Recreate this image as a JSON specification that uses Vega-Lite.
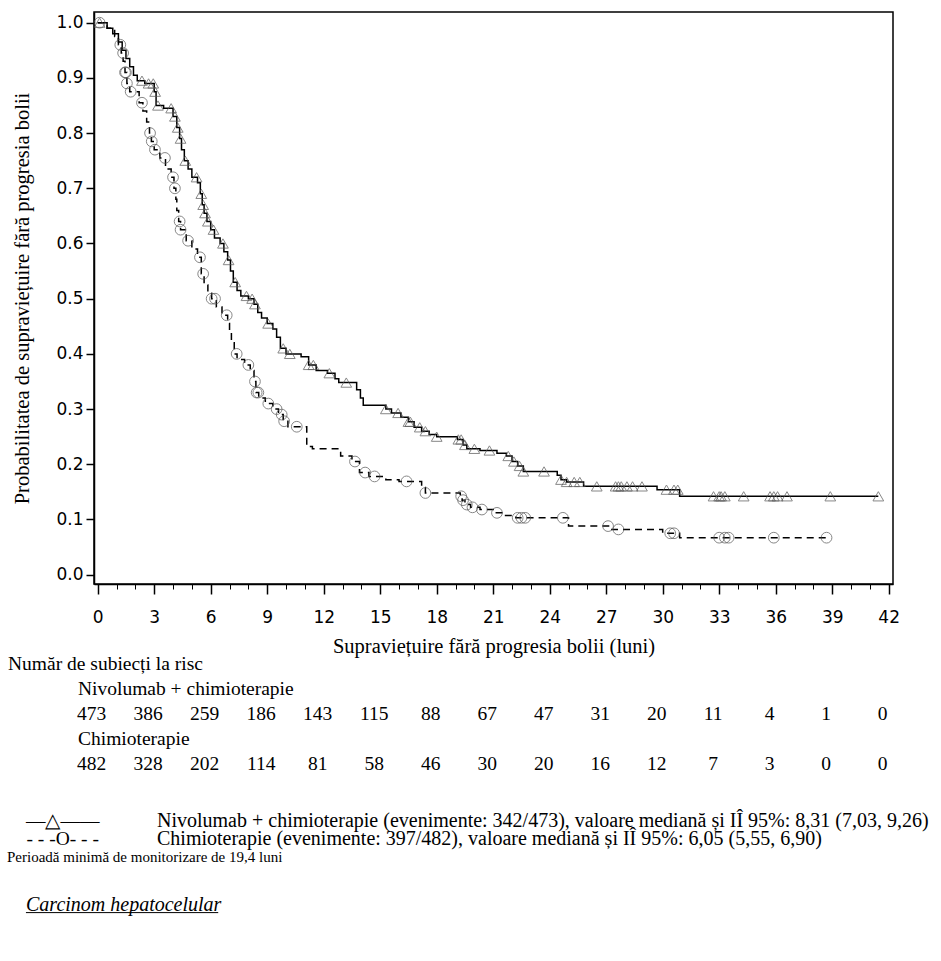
{
  "$schema": "https://vega.github.io/schema/vega-lite/v6.json",
  "padding": {"left": 7, "top": 11, "right": 5, "bottom": 5},
  "autosize": {"type": "pad"},
  "background": "white",
  "bounds": "flush",
  "spacing": 0,
  "config": {"view": {"stroke": null}},
  "datasets": {
    "km": [
      {"arm":"Nivolumab + chimioterapie","t":0,"s":1.0},{"arm":"Nivolumab + chimioterapie","t":0.5,"s":0.99},{"arm":"Nivolumab + chimioterapie","t":0.8,"s":0.98},{"arm":"Nivolumab + chimioterapie","t":1.1,"s":0.965},{"arm":"Nivolumab + chimioterapie","t":1.3,"s":0.95},{"arm":"Nivolumab + chimioterapie","t":1.5,"s":0.935},{"arm":"Nivolumab + chimioterapie","t":1.7,"s":0.92},{"arm":"Nivolumab + chimioterapie","t":1.9,"s":0.905},{"arm":"Nivolumab + chimioterapie","t":2.1,"s":0.895},{"arm":"Nivolumab + chimioterapie","t":2.5,"s":0.89},{"arm":"Nivolumab + chimioterapie","t":3.0,"s":0.875},{"arm":"Nivolumab + chimioterapie","t":3.1,"s":0.85},{"arm":"Nivolumab + chimioterapie","t":3.5,"s":0.845},{"arm":"Nivolumab + chimioterapie","t":4.0,"s":0.83},{"arm":"Nivolumab + chimioterapie","t":4.2,"s":0.81},{"arm":"Nivolumab + chimioterapie","t":4.35,"s":0.79},{"arm":"Nivolumab + chimioterapie","t":4.45,"s":0.77},{"arm":"Nivolumab + chimioterapie","t":4.6,"s":0.75},{"arm":"Nivolumab + chimioterapie","t":4.8,"s":0.735},{"arm":"Nivolumab + chimioterapie","t":5.0,"s":0.72},{"arm":"Nivolumab + chimioterapie","t":5.3,"s":0.71},{"arm":"Nivolumab + chimioterapie","t":5.45,"s":0.69},{"arm":"Nivolumab + chimioterapie","t":5.55,"s":0.67},{"arm":"Nivolumab + chimioterapie","t":5.65,"s":0.655},{"arm":"Nivolumab + chimioterapie","t":5.8,"s":0.64},{"arm":"Nivolumab + chimioterapie","t":6.0,"s":0.625},{"arm":"Nivolumab + chimioterapie","t":6.2,"s":0.61},{"arm":"Nivolumab + chimioterapie","t":6.5,"s":0.6},{"arm":"Nivolumab + chimioterapie","t":6.7,"s":0.585},{"arm":"Nivolumab + chimioterapie","t":6.9,"s":0.57},{"arm":"Nivolumab + chimioterapie","t":7.05,"s":0.55},{"arm":"Nivolumab + chimioterapie","t":7.2,"s":0.53},{"arm":"Nivolumab + chimioterapie","t":7.4,"s":0.515},{"arm":"Nivolumab + chimioterapie","t":7.6,"s":0.505},{"arm":"Nivolumab + chimioterapie","t":8.0,"s":0.5},{"arm":"Nivolumab + chimioterapie","t":8.3,"s":0.49},{"arm":"Nivolumab + chimioterapie","t":8.5,"s":0.475},{"arm":"Nivolumab + chimioterapie","t":8.7,"s":0.465},{"arm":"Nivolumab + chimioterapie","t":9.0,"s":0.455},{"arm":"Nivolumab + chimioterapie","t":9.3,"s":0.445},{"arm":"Nivolumab + chimioterapie","t":9.5,"s":0.43},{"arm":"Nivolumab + chimioterapie","t":9.7,"s":0.41},{"arm":"Nivolumab + chimioterapie","t":10.0,"s":0.4},{"arm":"Nivolumab + chimioterapie","t":10.8,"s":0.395},{"arm":"Nivolumab + chimioterapie","t":11.2,"s":0.38},{"arm":"Nivolumab + chimioterapie","t":11.6,"s":0.37},{"arm":"Nivolumab + chimioterapie","t":12.2,"s":0.365},{"arm":"Nivolumab + chimioterapie","t":12.6,"s":0.355},{"arm":"Nivolumab + chimioterapie","t":12.8,"s":0.348},{"arm":"Nivolumab + chimioterapie","t":13.75,"s":0.335},{"arm":"Nivolumab + chimioterapie","t":13.95,"s":0.32},{"arm":"Nivolumab + chimioterapie","t":14.1,"s":0.307},{"arm":"Nivolumab + chimioterapie","t":15.3,"s":0.3},{"arm":"Nivolumab + chimioterapie","t":15.6,"s":0.293},{"arm":"Nivolumab + chimioterapie","t":16.1,"s":0.285},{"arm":"Nivolumab + chimioterapie","t":16.5,"s":0.277},{"arm":"Nivolumab + chimioterapie","t":16.8,"s":0.267},{"arm":"Nivolumab + chimioterapie","t":17.2,"s":0.26},{"arm":"Nivolumab + chimioterapie","t":17.6,"s":0.254},{"arm":"Nivolumab + chimioterapie","t":18.0,"s":0.25},{"arm":"Nivolumab + chimioterapie","t":19.1,"s":0.245},{"arm":"Nivolumab + chimioterapie","t":19.4,"s":0.235},{"arm":"Nivolumab + chimioterapie","t":19.6,"s":0.228},{"arm":"Nivolumab + chimioterapie","t":20.3,"s":0.225},{"arm":"Nivolumab + chimioterapie","t":21.2,"s":0.22},{"arm":"Nivolumab + chimioterapie","t":21.7,"s":0.215},{"arm":"Nivolumab + chimioterapie","t":22.0,"s":0.205},{"arm":"Nivolumab + chimioterapie","t":22.3,"s":0.197},{"arm":"Nivolumab + chimioterapie","t":22.6,"s":0.187},{"arm":"Nivolumab + chimioterapie","t":24.4,"s":0.18},{"arm":"Nivolumab + chimioterapie","t":24.6,"s":0.172},{"arm":"Nivolumab + chimioterapie","t":24.9,"s":0.168},{"arm":"Nivolumab + chimioterapie","t":25.8,"s":0.16},{"arm":"Nivolumab + chimioterapie","t":29.7,"s":0.154},{"arm":"Nivolumab + chimioterapie","t":30.9,"s":0.142},{"arm":"Nivolumab + chimioterapie","t":41.45,"s":0.142},
      {"arm":"Chimioterapie","t":0,"s":1.0},{"arm":"Chimioterapie","t":0.5,"s":0.99},{"arm":"Chimioterapie","t":0.9,"s":0.975},{"arm":"Chimioterapie","t":1.1,"s":0.96},{"arm":"Chimioterapie","t":1.25,"s":0.945},{"arm":"Chimioterapie","t":1.35,"s":0.93},{"arm":"Chimioterapie","t":1.45,"s":0.91},{"arm":"Chimioterapie","t":1.55,"s":0.89},{"arm":"Chimioterapie","t":1.7,"s":0.875},{"arm":"Chimioterapie","t":2.2,"s":0.855},{"arm":"Chimioterapie","t":2.4,"s":0.84},{"arm":"Chimioterapie","t":2.6,"s":0.82},{"arm":"Chimioterapie","t":2.75,"s":0.8},{"arm":"Chimioterapie","t":2.85,"s":0.785},{"arm":"Chimioterapie","t":3.0,"s":0.77},{"arm":"Chimioterapie","t":3.3,"s":0.755},{"arm":"Chimioterapie","t":3.6,"s":0.735},{"arm":"Chimioterapie","t":3.9,"s":0.72},{"arm":"Chimioterapie","t":4.05,"s":0.7},{"arm":"Chimioterapie","t":4.15,"s":0.68},{"arm":"Chimioterapie","t":4.2,"s":0.66},{"arm":"Chimioterapie","t":4.3,"s":0.64},{"arm":"Chimioterapie","t":4.4,"s":0.625},{"arm":"Chimioterapie","t":4.7,"s":0.605},{"arm":"Chimioterapie","t":5.0,"s":0.59},{"arm":"Chimioterapie","t":5.3,"s":0.575},{"arm":"Chimioterapie","t":5.5,"s":0.545},{"arm":"Chimioterapie","t":5.65,"s":0.525},{"arm":"Chimioterapie","t":5.85,"s":0.51},{"arm":"Chimioterapie","t":6.05,"s":0.5},{"arm":"Chimioterapie","t":6.3,"s":0.485},{"arm":"Chimioterapie","t":6.6,"s":0.47},{"arm":"Chimioterapie","t":6.9,"s":0.455},{"arm":"Chimioterapie","t":7.0,"s":0.44},{"arm":"Chimioterapie","t":7.1,"s":0.42},{"arm":"Chimioterapie","t":7.25,"s":0.4},{"arm":"Chimioterapie","t":7.4,"s":0.39},{"arm":"Chimioterapie","t":7.8,"s":0.38},{"arm":"Chimioterapie","t":8.1,"s":0.37},{"arm":"Chimioterapie","t":8.3,"s":0.35},{"arm":"Chimioterapie","t":8.4,"s":0.33},{"arm":"Chimioterapie","t":8.55,"s":0.32},{"arm":"Chimioterapie","t":8.9,"s":0.31},{"arm":"Chimioterapie","t":9.3,"s":0.3},{"arm":"Chimioterapie","t":9.6,"s":0.29},{"arm":"Chimioterapie","t":9.85,"s":0.278},{"arm":"Chimioterapie","t":10.1,"s":0.268},{"arm":"Chimioterapie","t":11.1,"s":0.232},{"arm":"Chimioterapie","t":11.4,"s":0.228},{"arm":"Chimioterapie","t":12.9,"s":0.215},{"arm":"Chimioterapie","t":13.5,"s":0.205},{"arm":"Chimioterapie","t":13.9,"s":0.185},{"arm":"Chimioterapie","t":14.4,"s":0.178},{"arm":"Chimioterapie","t":15.3,"s":0.172},{"arm":"Chimioterapie","t":16.0,"s":0.169},{"arm":"Chimioterapie","t":17.2,"s":0.158},{"arm":"Chimioterapie","t":17.4,"s":0.148},{"arm":"Chimioterapie","t":19.25,"s":0.142},{"arm":"Chimioterapie","t":19.35,"s":0.135},{"arm":"Chimioterapie","t":19.5,"s":0.127},{"arm":"Chimioterapie","t":19.8,"s":0.122},{"arm":"Chimioterapie","t":20.3,"s":0.118},{"arm":"Chimioterapie","t":21.0,"s":0.112},{"arm":"Chimioterapie","t":21.6,"s":0.107},{"arm":"Chimioterapie","t":22.2,"s":0.103},{"arm":"Chimioterapie","t":25.0,"s":0.088},{"arm":"Chimioterapie","t":27.2,"s":0.082},{"arm":"Chimioterapie","t":30.0,"s":0.075},{"arm":"Chimioterapie","t":30.9,"s":0.067},{"arm":"Chimioterapie","t":38.7,"s":0.067}
    ],
    "cens": [
      {"arm":"Nivolumab + chimioterapie","t":0.1,"s":1.0},{"arm":"Nivolumab + chimioterapie","t":2.35,"s":0.895},{"arm":"Nivolumab + chimioterapie","t":2.7,"s":0.89},{"arm":"Nivolumab + chimioterapie","t":2.95,"s":0.89},{"arm":"Nivolumab + chimioterapie","t":3.05,"s":0.875},{"arm":"Nivolumab + chimioterapie","t":3.2,"s":0.85},{"arm":"Nivolumab + chimioterapie","t":3.9,"s":0.845},{"arm":"Nivolumab + chimioterapie","t":4.1,"s":0.83},{"arm":"Nivolumab + chimioterapie","t":4.25,"s":0.81},{"arm":"Nivolumab + chimioterapie","t":4.4,"s":0.79},{"arm":"Nivolumab + chimioterapie","t":4.65,"s":0.75},{"arm":"Nivolumab + chimioterapie","t":5.25,"s":0.72},{"arm":"Nivolumab + chimioterapie","t":5.5,"s":0.69},{"arm":"Nivolumab + chimioterapie","t":5.6,"s":0.67},{"arm":"Nivolumab + chimioterapie","t":5.7,"s":0.655},{"arm":"Nivolumab + chimioterapie","t":5.85,"s":0.64},{"arm":"Nivolumab + chimioterapie","t":6.15,"s":0.625},{"arm":"Nivolumab + chimioterapie","t":6.65,"s":0.6},{"arm":"Nivolumab + chimioterapie","t":6.95,"s":0.57},{"arm":"Nivolumab + chimioterapie","t":7.3,"s":0.53},{"arm":"Nivolumab + chimioterapie","t":7.9,"s":0.505},{"arm":"Nivolumab + chimioterapie","t":8.2,"s":0.5},{"arm":"Nivolumab + chimioterapie","t":8.35,"s":0.49},{"arm":"Nivolumab + chimioterapie","t":9.05,"s":0.455},{"arm":"Nivolumab + chimioterapie","t":9.85,"s":0.41},{"arm":"Nivolumab + chimioterapie","t":10.2,"s":0.4},{"arm":"Nivolumab + chimioterapie","t":11.2,"s":0.38},{"arm":"Nivolumab + chimioterapie","t":11.45,"s":0.38},{"arm":"Nivolumab + chimioterapie","t":12.3,"s":0.365},{"arm":"Nivolumab + chimioterapie","t":13.2,"s":0.348},{"arm":"Nivolumab + chimioterapie","t":15.3,"s":0.3},{"arm":"Nivolumab + chimioterapie","t":15.95,"s":0.293},{"arm":"Nivolumab + chimioterapie","t":16.5,"s":0.277},{"arm":"Nivolumab + chimioterapie","t":16.6,"s":0.277},{"arm":"Nivolumab + chimioterapie","t":17.1,"s":0.267},{"arm":"Nivolumab + chimioterapie","t":17.4,"s":0.26},{"arm":"Nivolumab + chimioterapie","t":18.0,"s":0.25},{"arm":"Nivolumab + chimioterapie","t":19.15,"s":0.245},{"arm":"Nivolumab + chimioterapie","t":19.3,"s":0.245},{"arm":"Nivolumab + chimioterapie","t":19.5,"s":0.235},{"arm":"Nivolumab + chimioterapie","t":20.0,"s":0.228},{"arm":"Nivolumab + chimioterapie","t":20.8,"s":0.225},{"arm":"Nivolumab + chimioterapie","t":21.8,"s":0.215},{"arm":"Nivolumab + chimioterapie","t":22.1,"s":0.205},{"arm":"Nivolumab + chimioterapie","t":22.4,"s":0.197},{"arm":"Nivolumab + chimioterapie","t":22.6,"s":0.187},{"arm":"Nivolumab + chimioterapie","t":23.7,"s":0.187},{"arm":"Nivolumab + chimioterapie","t":24.6,"s":0.172},{"arm":"Nivolumab + chimioterapie","t":24.9,"s":0.168},{"arm":"Nivolumab + chimioterapie","t":25.3,"s":0.168},{"arm":"Nivolumab + chimioterapie","t":25.6,"s":0.168},{"arm":"Nivolumab + chimioterapie","t":26.5,"s":0.16},{"arm":"Nivolumab + chimioterapie","t":27.5,"s":0.16},{"arm":"Nivolumab + chimioterapie","t":27.65,"s":0.16},{"arm":"Nivolumab + chimioterapie","t":27.8,"s":0.16},{"arm":"Nivolumab + chimioterapie","t":28.1,"s":0.16},{"arm":"Nivolumab + chimioterapie","t":28.4,"s":0.16},{"arm":"Nivolumab + chimioterapie","t":28.9,"s":0.16},{"arm":"Nivolumab + chimioterapie","t":30.2,"s":0.154},{"arm":"Nivolumab + chimioterapie","t":30.6,"s":0.154},{"arm":"Nivolumab + chimioterapie","t":30.8,"s":0.154},{"arm":"Nivolumab + chimioterapie","t":32.7,"s":0.142},{"arm":"Nivolumab + chimioterapie","t":33.0,"s":0.142},{"arm":"Nivolumab + chimioterapie","t":33.1,"s":0.142},{"arm":"Nivolumab + chimioterapie","t":33.3,"s":0.142},{"arm":"Nivolumab + chimioterapie","t":34.3,"s":0.142},{"arm":"Nivolumab + chimioterapie","t":35.7,"s":0.142},{"arm":"Nivolumab + chimioterapie","t":35.9,"s":0.142},{"arm":"Nivolumab + chimioterapie","t":36.1,"s":0.142},{"arm":"Nivolumab + chimioterapie","t":36.6,"s":0.142},{"arm":"Nivolumab + chimioterapie","t":38.9,"s":0.142},{"arm":"Nivolumab + chimioterapie","t":41.45,"s":0.142},
      {"arm":"Chimioterapie","t":0.1,"s":1.0},{"arm":"Chimioterapie","t":1.2,"s":0.96},{"arm":"Chimioterapie","t":1.35,"s":0.945},{"arm":"Chimioterapie","t":1.45,"s":0.91},{"arm":"Chimioterapie","t":1.5,"s":0.91},{"arm":"Chimioterapie","t":1.55,"s":0.89},{"arm":"Chimioterapie","t":1.75,"s":0.875},{"arm":"Chimioterapie","t":2.35,"s":0.855},{"arm":"Chimioterapie","t":2.78,"s":0.8},{"arm":"Chimioterapie","t":2.87,"s":0.785},{"arm":"Chimioterapie","t":3.04,"s":0.77},{"arm":"Chimioterapie","t":3.57,"s":0.755},{"arm":"Chimioterapie","t":4.0,"s":0.72},{"arm":"Chimioterapie","t":4.1,"s":0.7},{"arm":"Chimioterapie","t":4.35,"s":0.64},{"arm":"Chimioterapie","t":4.4,"s":0.625},{"arm":"Chimioterapie","t":4.8,"s":0.605},{"arm":"Chimioterapie","t":5.43,"s":0.575},{"arm":"Chimioterapie","t":5.6,"s":0.545},{"arm":"Chimioterapie","t":6.05,"s":0.5},{"arm":"Chimioterapie","t":6.23,"s":0.5},{"arm":"Chimioterapie","t":6.85,"s":0.47},{"arm":"Chimioterapie","t":7.38,"s":0.4},{"arm":"Chimioterapie","t":8.0,"s":0.38},{"arm":"Chimioterapie","t":8.35,"s":0.35},{"arm":"Chimioterapie","t":8.44,"s":0.33},{"arm":"Chimioterapie","t":8.53,"s":0.33},{"arm":"Chimioterapie","t":9.06,"s":0.31},{"arm":"Chimioterapie","t":9.5,"s":0.3},{"arm":"Chimioterapie","t":9.77,"s":0.29},{"arm":"Chimioterapie","t":9.9,"s":0.278},{"arm":"Chimioterapie","t":10.57,"s":0.268},{"arm":"Chimioterapie","t":13.66,"s":0.205},{"arm":"Chimioterapie","t":14.2,"s":0.185},{"arm":"Chimioterapie","t":14.7,"s":0.178},{"arm":"Chimioterapie","t":16.4,"s":0.169},{"arm":"Chimioterapie","t":17.4,"s":0.148},{"arm":"Chimioterapie","t":19.3,"s":0.142},{"arm":"Chimioterapie","t":19.4,"s":0.135},{"arm":"Chimioterapie","t":19.6,"s":0.127},{"arm":"Chimioterapie","t":19.9,"s":0.122},{"arm":"Chimioterapie","t":20.4,"s":0.118},{"arm":"Chimioterapie","t":21.2,"s":0.112},{"arm":"Chimioterapie","t":22.3,"s":0.103},{"arm":"Chimioterapie","t":22.5,"s":0.103},{"arm":"Chimioterapie","t":22.7,"s":0.103},{"arm":"Chimioterapie","t":24.7,"s":0.103},{"arm":"Chimioterapie","t":27.1,"s":0.088},{"arm":"Chimioterapie","t":27.65,"s":0.082},{"arm":"Chimioterapie","t":30.4,"s":0.075},{"arm":"Chimioterapie","t":30.6,"s":0.075},{"arm":"Chimioterapie","t":33.0,"s":0.067},{"arm":"Chimioterapie","t":33.3,"s":0.067},{"arm":"Chimioterapie","t":33.5,"s":0.067},{"arm":"Chimioterapie","t":35.9,"s":0.067},{"arm":"Chimioterapie","t":38.7,"s":0.067}
    ],
    "risk": [
      {"arm":"Nivolumab + chimioterapie","month":0,"n":473},{"arm":"Nivolumab + chimioterapie","month":3,"n":386},{"arm":"Nivolumab + chimioterapie","month":6,"n":259},{"arm":"Nivolumab + chimioterapie","month":9,"n":186},{"arm":"Nivolumab + chimioterapie","month":12,"n":143},{"arm":"Nivolumab + chimioterapie","month":15,"n":115},{"arm":"Nivolumab + chimioterapie","month":18,"n":88},{"arm":"Nivolumab + chimioterapie","month":21,"n":67},{"arm":"Nivolumab + chimioterapie","month":24,"n":47},{"arm":"Nivolumab + chimioterapie","month":27,"n":31},{"arm":"Nivolumab + chimioterapie","month":30,"n":20},{"arm":"Nivolumab + chimioterapie","month":33,"n":11},{"arm":"Nivolumab + chimioterapie","month":36,"n":4},{"arm":"Nivolumab + chimioterapie","month":39,"n":1},{"arm":"Nivolumab + chimioterapie","month":42,"n":0},
      {"arm":"Chimioterapie","month":0,"n":482},{"arm":"Chimioterapie","month":3,"n":328},{"arm":"Chimioterapie","month":6,"n":202},{"arm":"Chimioterapie","month":9,"n":114},{"arm":"Chimioterapie","month":12,"n":81},{"arm":"Chimioterapie","month":15,"n":58},{"arm":"Chimioterapie","month":18,"n":46},{"arm":"Chimioterapie","month":21,"n":30},{"arm":"Chimioterapie","month":24,"n":20},{"arm":"Chimioterapie","month":27,"n":16},{"arm":"Chimioterapie","month":30,"n":12},{"arm":"Chimioterapie","month":33,"n":7},{"arm":"Chimioterapie","month":36,"n":3},{"arm":"Chimioterapie","month":39,"n":0},{"arm":"Chimioterapie","month":42,"n":0}
    ]
  },
  "vconcat": [
    {
      "width": 799,
      "height": 572,
      "view": {"stroke": "black", "strokeWidth": 1.5},
      "layer": [
        {
          "data": {"name": "km"},
          "mark": {"type": "line", "interpolate": "step-after", "color": "black", "strokeWidth": 1.5},
          "encoding": {
            "x": {"field": "t", "type": "quantitative",
              "scale": {"domain": [-0.1965, 42.229], "nice": false, "zero": false},
              "axis": {"orient": "bottom", "values": [0,3,6,9,12,15,18,21,24,27,30,33,36,39,42], "tickSize": 10, "tickWidth": 1.5, "tickColor": "black", "domainColor": "black", "domainWidth": 1.5, "labelFont": "DejaVu Sans", "labelFontSize": 17, "labelColor": "black", "labelPadding": 15, "labelFlush": false, "labelOverlap": false, "grid": false, "title": "Supraviețuire fără progresia bolii (luni)", "titleFont": "Times New Roman, Liberation Serif, serif", "titleFontSize": 20.5, "titleFontWeight": "normal", "titleColor": "black", "titlePadding": 11}},
            "y": {"field": "s", "type": "quantitative",
              "scale": {"domain": [-0.0169, 1.0194], "nice": false, "zero": false},
              "axis": {"values": [0,0.1,0.2,0.3,0.4,0.5,0.6,0.7,0.8,0.9,1.0], "format": ".1f", "tickSize": 8, "tickWidth": 1.5, "tickColor": "black", "domainColor": "black", "domainWidth": 1.5, "labelFont": "DejaVu Sans", "labelFontSize": 17, "labelColor": "black", "labelPadding": 3, "grid": false, "title": "Probabilitatea de supraviețuire fără progresia bolii", "titleFont": "Times New Roman, Liberation Serif, serif", "titleFontSize": 20.5, "titleFontWeight": "normal", "titleColor": "black", "titlePadding": 23}},
            "strokeDash": {"field": "arm", "type": "nominal", "scale": {"domain": ["Nivolumab + chimioterapie", "Chimioterapie"], "range": [[1, 0], [7, 5]]}, "legend": null}
          }
        },
        {
          "data": {"name": "cens"},
          "mark": {"type": "point", "filled": false, "size": 115, "strokeWidth": 1, "color": "#555555"},
          "encoding": {
            "x": {"field": "t", "type": "quantitative",
              "axis": {"orient": "bottom", "values": [0,1,2,3,4,5,6,7,8,9,10,11,12,13,14,15,16,17,18,19,20,21,22,23,24,25,26,27,28,29,30,31,32,33,34,35,36,37,38,39,40,41,42], "tickSize": 5, "tickWidth": 1, "tickColor": "black", "labels": false, "domain": false, "grid": false, "title": null}},
            "y": {"field": "s", "type": "quantitative"},
            "shape": {"field": "arm", "type": "nominal", "scale": {"domain": ["Nivolumab + chimioterapie", "Chimioterapie"], "range": ["triangle-up", "circle"]}, "legend": null}
          }
        }
      ],
      "resolve": {"axis": {"x": "independent"}}
    },
    {
      "width": 799,
      "height": 192.5,
      "layer": [
        {
          "data": {"name": "risk"},
          "mark": {"type": "text", "font": "Times New Roman, Liberation Serif, serif", "fontSize": 19.5, "color": "black", "align": "center", "baseline": "middle", "dx": -6},
          "encoding": {
            "x": {"field": "month", "type": "quantitative", "scale": {"domain": [-0.1965, 42.229], "nice": false, "zero": false}, "axis": null},
            "y": {"field": "arm", "type": "nominal", "scale": {"type": "band", "domain": ["_", "h", "nl", "Nivolumab + chimioterapie", "cl", "Chimioterapie"], "paddingInner": 0, "paddingOuter": 0.85, "align": 1}, "axis": null},
            "text": {"field": "n", "type": "quantitative"}
          }
        },
        {
          "data": {"values": [{"row": "h", "label": "Număr de subiecți la risc"}]},
          "mark": {"type": "text", "font": "Times New Roman, Liberation Serif, serif", "fontSize": 19.5, "color": "black", "align": "left", "baseline": "middle", "dx": -89.7},
          "encoding": {
            "x": {"datum": 0, "type": "quantitative"},
            "y": {"field": "row", "type": "nominal"},
            "text": {"field": "label"}
          }
        },
        {
          "data": {"values": [{"row": "nl", "label": "Nivolumab + chimioterapie"}, {"row": "cl", "label": "Chimioterapie"}]},
          "mark": {"type": "text", "font": "Times New Roman, Liberation Serif, serif", "fontSize": 19.5, "color": "black", "align": "left", "baseline": "middle", "dx": -19.7},
          "encoding": {
            "x": {"datum": 0, "type": "quantitative"},
            "y": {"field": "row", "type": "nominal"},
            "text": {"field": "label"}
          }
        }
      ]
    },
    {
      "width": 799,
      "height": 89.5,
      "layer": [
        {
          "data": {"values": [{"row": "a", "sym": "—△——"}, {"row": "b", "sym": "- - -O- - -"}]},
          "mark": {"type": "text", "font": "Times New Roman, Liberation Serif, serif", "fontSize": 19.5, "color": "black", "align": "center", "baseline": "middle", "dx": -35},
          "encoding": {
            "x": {"datum": 0, "type": "quantitative", "scale": {"domain": [-0.1965, 42.229], "nice": false, "zero": false}, "axis": null},
            "y": {"field": "row", "type": "nominal", "scale": {"type": "band", "domain": ["a", "b", "c"], "paddingInner": 0, "paddingOuter": 0.986, "align": 1}, "axis": null},
            "text": {"field": "sym"}
          }
        },
        {
          "data": {"values": [{"row": "a", "label": "Nivolumab + chimioterapie (evenimente: 342/473), valoare mediană și IÎ 95%: 8,31 (7,03, 9,26)"}, {"row": "b", "label": "Chimioterapie (evenimente: 397/482), valoare mediană și IÎ 95%: 6,05 (5,55, 6,90)"}]},
          "mark": {"type": "text", "font": "Times New Roman, Liberation Serif, serif", "fontSize": 20, "color": "black", "align": "left", "baseline": "middle", "dx": 59.3},
          "encoding": {
            "x": {"datum": 0, "type": "quantitative"},
            "y": {"field": "row", "type": "nominal"},
            "text": {"field": "label"}
          }
        },
        {
          "data": {"values": [{"row": "c", "label": "Perioadă minimă de monitorizare de 19,4 luni"}]},
          "mark": {"type": "text", "font": "Times New Roman, Liberation Serif, serif", "fontSize": 15, "color": "black", "align": "left", "baseline": "middle", "dx": -90.7},
          "encoding": {
            "x": {"datum": 0, "type": "quantitative"},
            "y": {"field": "row", "type": "nominal"},
            "text": {"field": "label"}
          }
        }
      ]
    },
    {
      "width": 799,
      "height": 45.6,
      "data": {"values": [{"row": "h", "label": "Carcinom hepatocelular"}]},
      "layer": [
        {
          "mark": {"type": "text", "font": "Times New Roman, Liberation Serif, serif", "fontSize": 20, "fontStyle": "italic", "color": "black", "align": "left", "baseline": "middle", "dx": -71.7},
          "encoding": {
            "x": {"datum": 0, "type": "quantitative", "scale": {"domain": [-0.1965, 42.229], "nice": false, "zero": false}, "axis": null},
            "y": {"field": "row", "type": "nominal", "scale": {"type": "band", "paddingInner": 0, "paddingOuter": 1, "align": 1}, "axis": null},
            "text": {"field": "label"}
          }
        },
        {
          "mark": {"type": "rule", "color": "black", "strokeWidth": 1},
          "encoding": {
            "x": {"datum": -3.81, "type": "quantitative"},
            "x2": {"datum": 6.4},
            "y": {"field": "row", "type": "nominal", "bandPosition": 1}
          }
        }
      ]
    }
  ]
}
